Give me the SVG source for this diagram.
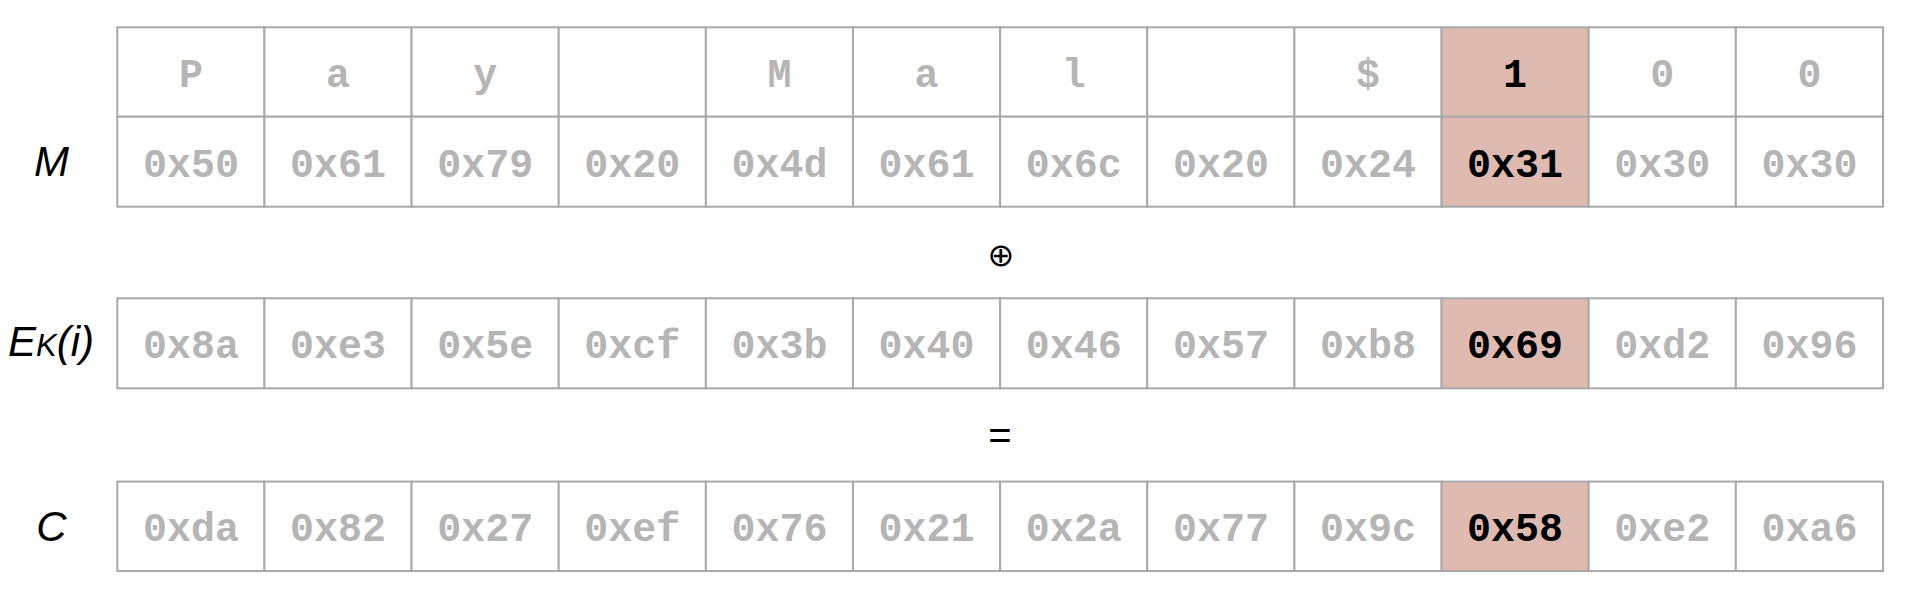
<svg xmlns="http://www.w3.org/2000/svg" width="1920" height="602" viewBox="0 0 1920 602">
<style>
.c{fill:#ffffff;stroke:#a9a9a9;stroke-width:2}
.h{fill:#dfbab1;stroke:#a9a9a9;stroke-width:2}
.t{font-family:"Liberation Mono","Courier New",monospace;font-weight:bold;font-size:40px;fill:#b5b5b5;text-anchor:middle}
.k{fill:#000000}
.lab{font-family:"Liberation Sans",Arial,sans-serif;font-style:italic;font-size:42px;fill:#000000;text-anchor:middle}
.op{font-family:"Liberation Sans",Arial,sans-serif;font-size:40px;fill:#000000;text-anchor:middle}
</style>
<rect width="1920" height="602" fill="#ffffff"/>
<g id="row-M-chars">
<rect class="c" x="117.3" y="27.3" width="147.14" height="89.4"/>
<rect class="c" x="264.44" y="27.3" width="147.14" height="89.4"/>
<rect class="c" x="411.58" y="27.3" width="147.14" height="89.4"/>
<rect class="c" x="558.72" y="27.3" width="147.14" height="89.4"/>
<rect class="c" x="705.86" y="27.3" width="147.14" height="89.4"/>
<rect class="c" x="853" y="27.3" width="147.14" height="89.4"/>
<rect class="c" x="1000.14" y="27.3" width="147.14" height="89.4"/>
<rect class="c" x="1147.28" y="27.3" width="147.14" height="89.4"/>
<rect class="c" x="1294.42" y="27.3" width="147.14" height="89.4"/>
<rect class="h" x="1441.56" y="27.3" width="147.14" height="89.4"/>
<rect class="c" x="1588.7" y="27.3" width="147.14" height="89.4"/>
<rect class="c" x="1735.84" y="27.3" width="147.14" height="89.4"/>
<text class="t" x="190.9" y="86.7">P</text>
<text class="t" x="338" y="86.7">a</text>
<text class="t" x="485.2" y="86.7">y</text>
<text class="t" x="779.4" y="86.7">M</text>
<text class="t" x="926.6" y="86.7">a</text>
<text class="t" x="1073.7" y="86.7">l</text>
<text class="t" x="1368" y="86.7">$</text>
<text class="t k" x="1515.1" y="86.7">1</text>
<text class="t" x="1662.3" y="86.7">0</text>
<text class="t" x="1809.4" y="86.7">0</text>
</g>
<g id="row-M">
<text class="lab" x="51.5" y="176">M</text>
<rect class="c" x="117.3" y="116.7" width="147.14" height="90"/>
<rect class="c" x="264.44" y="116.7" width="147.14" height="90"/>
<rect class="c" x="411.58" y="116.7" width="147.14" height="90"/>
<rect class="c" x="558.72" y="116.7" width="147.14" height="90"/>
<rect class="c" x="705.86" y="116.7" width="147.14" height="90"/>
<rect class="c" x="853" y="116.7" width="147.14" height="90"/>
<rect class="c" x="1000.14" y="116.7" width="147.14" height="90"/>
<rect class="c" x="1147.28" y="116.7" width="147.14" height="90"/>
<rect class="c" x="1294.42" y="116.7" width="147.14" height="90"/>
<rect class="h" x="1441.56" y="116.7" width="147.14" height="90"/>
<rect class="c" x="1588.7" y="116.7" width="147.14" height="90"/>
<rect class="c" x="1735.84" y="116.7" width="147.14" height="90"/>
<text class="t" x="190.9" y="176.7">0x50</text>
<text class="t" x="338" y="176.7">0x61</text>
<text class="t" x="485.2" y="176.7">0x79</text>
<text class="t" x="632.3" y="176.7">0x20</text>
<text class="t" x="779.4" y="176.7">0x4d</text>
<text class="t" x="926.6" y="176.7">0x61</text>
<text class="t" x="1073.7" y="176.7">0x6c</text>
<text class="t" x="1220.9" y="176.7">0x20</text>
<text class="t" x="1368" y="176.7">0x24</text>
<text class="t k" x="1515.1" y="176.7">0x31</text>
<text class="t" x="1662.3" y="176.7">0x30</text>
<text class="t" x="1809.4" y="176.7">0x30</text>
</g>
<g id="op-xor">
<text x="1001" y="266" style="font-family:'DejaVu Sans',sans-serif;font-size:32px;fill:#000000;text-anchor:middle">⊕</text>
</g>
<g id="row-E">
<text class="lab" x="51" y="356">E<tspan style="font-size:31px">K</tspan>(i)</text>
<rect class="c" x="117.3" y="298.3" width="147.14" height="90"/>
<rect class="c" x="264.44" y="298.3" width="147.14" height="90"/>
<rect class="c" x="411.58" y="298.3" width="147.14" height="90"/>
<rect class="c" x="558.72" y="298.3" width="147.14" height="90"/>
<rect class="c" x="705.86" y="298.3" width="147.14" height="90"/>
<rect class="c" x="853" y="298.3" width="147.14" height="90"/>
<rect class="c" x="1000.14" y="298.3" width="147.14" height="90"/>
<rect class="c" x="1147.28" y="298.3" width="147.14" height="90"/>
<rect class="c" x="1294.42" y="298.3" width="147.14" height="90"/>
<rect class="h" x="1441.56" y="298.3" width="147.14" height="90"/>
<rect class="c" x="1588.7" y="298.3" width="147.14" height="90"/>
<rect class="c" x="1735.84" y="298.3" width="147.14" height="90"/>
<text class="t" x="190.9" y="358.3">0x8a</text>
<text class="t" x="338" y="358.3">0xe3</text>
<text class="t" x="485.2" y="358.3">0x5e</text>
<text class="t" x="632.3" y="358.3">0xcf</text>
<text class="t" x="779.4" y="358.3">0x3b</text>
<text class="t" x="926.6" y="358.3">0x40</text>
<text class="t" x="1073.7" y="358.3">0x46</text>
<text class="t" x="1220.9" y="358.3">0x57</text>
<text class="t" x="1368" y="358.3">0xb8</text>
<text class="t k" x="1515.1" y="358.3">0x69</text>
<text class="t" x="1662.3" y="358.3">0xd2</text>
<text class="t" x="1809.4" y="358.3">0x96</text>
</g>
<g id="op-eq">
<text class="op" x="1000" y="448.5">=</text>
</g>
<g id="row-C">
<text class="lab" x="51.5" y="540.5">C</text>
<rect class="c" x="117.3" y="481.6" width="147.14" height="89.4"/>
<rect class="c" x="264.44" y="481.6" width="147.14" height="89.4"/>
<rect class="c" x="411.58" y="481.6" width="147.14" height="89.4"/>
<rect class="c" x="558.72" y="481.6" width="147.14" height="89.4"/>
<rect class="c" x="705.86" y="481.6" width="147.14" height="89.4"/>
<rect class="c" x="853" y="481.6" width="147.14" height="89.4"/>
<rect class="c" x="1000.14" y="481.6" width="147.14" height="89.4"/>
<rect class="c" x="1147.28" y="481.6" width="147.14" height="89.4"/>
<rect class="c" x="1294.42" y="481.6" width="147.14" height="89.4"/>
<rect class="h" x="1441.56" y="481.6" width="147.14" height="89.4"/>
<rect class="c" x="1588.7" y="481.6" width="147.14" height="89.4"/>
<rect class="c" x="1735.84" y="481.6" width="147.14" height="89.4"/>
<text class="t" x="190.9" y="541.3">0xda</text>
<text class="t" x="338" y="541.3">0x82</text>
<text class="t" x="485.2" y="541.3">0x27</text>
<text class="t" x="632.3" y="541.3">0xef</text>
<text class="t" x="779.4" y="541.3">0x76</text>
<text class="t" x="926.6" y="541.3">0x21</text>
<text class="t" x="1073.7" y="541.3">0x2a</text>
<text class="t" x="1220.9" y="541.3">0x77</text>
<text class="t" x="1368" y="541.3">0x9c</text>
<text class="t k" x="1515.1" y="541.3">0x58</text>
<text class="t" x="1662.3" y="541.3">0xe2</text>
<text class="t" x="1809.4" y="541.3">0xa6</text>
</g>
</svg>
